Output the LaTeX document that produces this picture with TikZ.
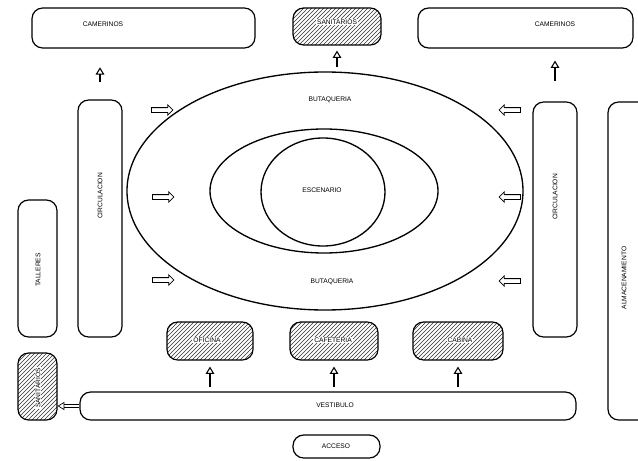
\documentclass[tikz,border=0pt]{standalone}
\usepackage{fontspec}
\setmainfont{Liberation Sans}
\usetikzlibrary{shapes.geometric,shapes.arrows,patterns,arrows.meta}
\begin{document}
\begin{tikzpicture}[x=0.75pt,y=-0.75pt,
 box/.style={draw,line width=0.9pt,rounded corners=8pt,inner sep=0pt},
 hatch/.style={box,pattern=north east lines,pattern color=black!80},
 oval/.style={draw,ellipse,line width=1pt,inner sep=0pt},
 lbl/.style={font=\fontsize{5}{6}\selectfont,inner sep=0.8pt},
 hlbl/.style={lbl,fill=white},
 uparr/.style={line width=2.2pt,-{Triangle[open,length=5.5pt,width=6.5pt,line width=0.8pt]}},
 sarr/.style={single arrow,draw,line width=0.6pt,minimum height=16pt,single arrow head extend=2pt,inner sep=1.5pt,single arrow head indent=0pt},
 hollowarr/.style={double,double distance=1.6pt,line width=0.5pt,-{Triangle[open,length=5pt,width=6pt,line width=0.5pt]}}
]
\useasboundingbox (0,0) rectangle (638,460);

% top row
\node[box,minimum width=167.25pt,minimum height=30pt] (camL) at (143.5,28) {};
\node[lbl] (camLt) at (103,24) {CAMERINOS};
\node[hatch,minimum width=66pt,minimum height=27.75pt] (sanT) at (337,26.5) {};
\node[hlbl] (sanTt) at (337,22) {SANITARIOS};
\node[box,minimum width=161.25pt,minimum height=30pt] (camR) at (525.5,28) {};
\node[lbl] (camRt) at (555,24) {CAMERINOS};

% ellipses
\node[oval,minimum width=297pt,minimum height=178.5pt] (outer) at (325,191) {};
\node[oval,minimum width=171pt,minimum height=93pt] (inner) at (324,191) {};
\node[oval,minimum width=93pt,minimum height=81pt] (esc) at (323,192) {};
\node[lbl] (esct) at (322,190) {ESCENARIO};
\node[lbl] (butT) at (330,100) {BUTAQUERIA};
\node[lbl] (butB) at (332,282) {BUTAQUERIA};

% side columns
\node[box,minimum width=33pt,minimum height=177.75pt] (circL) at (100,218.5) {};
\node[lbl,rotate=90] (circLt) at (100,196) {CIRCULACION};
\node[box,minimum width=29.25pt,minimum height=102.75pt] (tal) at (37.5,268.5) {};
\node[lbl,rotate=90] (talt) at (38,270) {TALLERES};
\node[box,minimum width=33pt,minimum height=176.25pt] (circR) at (555,219.5) {};
\node[lbl,rotate=90] (circRt) at (555,197) {CIRCULACION};
\node[box,minimum width=30pt,minimum height=238.5pt] (alm) at (628,261) {};
\node[lbl,rotate=90] (almt) at (624,278) {ALMACENAMIENTO};

% bottom
\node[hatch,minimum width=29.25pt,minimum height=50.25pt] (sanL) at (37.5,386.5) {};
\node[hlbl,rotate=90] (sanLt) at (38,388) {SANITARIOS};
\node[box,minimum width=372pt,minimum height=21pt] (vest) at (328,406) {};
\node[lbl] (vestt) at (335,405) {VESTIBULO};
\node[box,minimum width=65.25pt,minimum height=17.25pt] (acc) at (336.5,446.5) {};
\node[lbl] (acct) at (336,446) {ACCESO};
\node[hatch,minimum width=64.5pt,minimum height=28.5pt] (ofi) at (210,341) {};
\node[hlbl] (ofit) at (207,340) {OFICINA};
\node[hatch,minimum width=66pt,minimum height=28.5pt] (caf) at (334,341) {};
\node[hlbl] (caft) at (333,340) {CAFETERIA};
\node[hatch,minimum width=67.5pt,minimum height=28.5pt] (cab) at (458,341) {};
\node[hlbl] (cabt) at (460,340) {CABINA};

% up arrows
\draw[uparr,shorten <=12.75pt,shorten >=14pt] (circL.north) -- (circL.north |- camL.south);
\draw[uparr,shorten <=3pt,shorten >=3.75pt] (outer.north -| sanT.south) -- (sanT.south);
\draw[uparr,shorten <=15pt,shorten >=9pt] (circR.north) -- (circR.north |- camR.south);
\draw[uparr,shorten <=3pt,shorten >=4.5pt] (ofi.south |- vest.north) -- (ofi.south);
\draw[uparr,shorten <=3pt,shorten >=4.5pt] (caf.south |- vest.north) -- (caf.south);
\draw[uparr,shorten <=3pt,shorten >=4.5pt] (cab.south |- vest.north) -- (cab.south);
\draw[hollowarr] (vest.west) -- (vest.west -| sanL.east);

% side arrows pointing at the seating
\node[sarr] (aL1) at (161,110) {};
\node[sarr] (aL2) at (162,197) {};
\node[sarr] (aL3) at (162,280) {};
\node[sarr,shape border rotate=180] (aR1) at (511,110) {};
\node[sarr,shape border rotate=180] (aR2) at (511,197) {};
\node[sarr,shape border rotate=180] (aR3) at (511,281) {};
\end{tikzpicture}
\end{document}
